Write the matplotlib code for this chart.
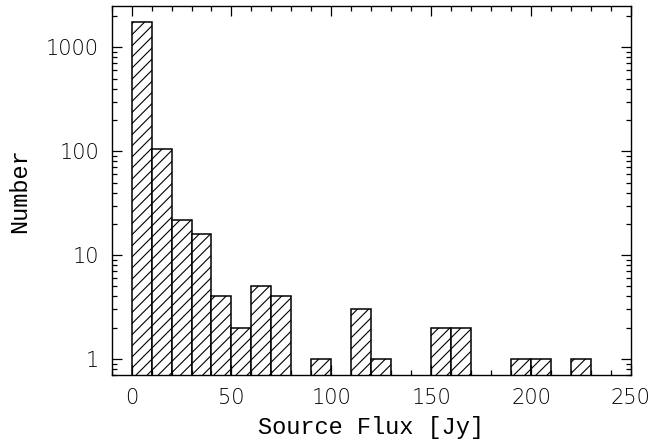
import numpy as np
import matplotlib
matplotlib.use("Agg")
import matplotlib.pyplot as plt
from matplotlib.ticker import MultipleLocator, LogLocator, FixedLocator, NullFormatter

# histogram of source fluxes, 10 Jy bins
bin_left = [0, 10, 20, 30, 40, 50, 60, 70, 90, 110, 120, 150, 160, 190, 200, 220]
counts = [1750, 104, 22, 16, 4, 2, 5, 4, 1, 3, 1, 2, 2, 1, 1, 1]
bin_width = 10

y_ticks = [1, 10, 100, 1000]
y_ticklabels = ["1", "10", "100", "1000"]

plt.rcParams["hatch.linewidth"] = 0.8

fig = plt.figure(figsize=(6.53, 4.45), dpi=100)
ax = fig.add_axes([0.171, 0.157, 0.795, 0.8295])

ax.bar(bin_left, counts, width=bin_width, align="edge",
       facecolor="white", edgecolor="black", linewidth=1.1, hatch="///")

ax.set_yscale("log")
ax.set_xlim(-10, 250)
ax.set_ylim(0.7, 2500)

ax.xaxis.set_major_locator(MultipleLocator(50))
ax.xaxis.set_minor_locator(MultipleLocator(10))
ax.yaxis.set_major_locator(FixedLocator(y_ticks))
ax.set_yticklabels(y_ticklabels)
ax.yaxis.set_minor_locator(LogLocator(base=10, subs=np.arange(2, 10)))
ax.yaxis.set_minor_formatter(NullFormatter())

ax.tick_params(which="both", direction="in", top=True, right=True, width=0.9)
ax.tick_params(which="major", length=7, labelsize=15, pad=9)
ax.tick_params(which="minor", length=3.5)
for lab in ax.get_xticklabels() + ax.get_yticklabels():
    lab.set_fontweight("light")
for s in ax.spines.values():
    s.set_linewidth(1.0)

ax.set_xlabel("Source Flux [Jy]", fontsize=17, family="Liberation Mono", labelpad=6)
ax.set_ylabel("Number", fontsize=17, family="Liberation Mono", labelpad=11)

fig.savefig("out.png", dpi=100)
